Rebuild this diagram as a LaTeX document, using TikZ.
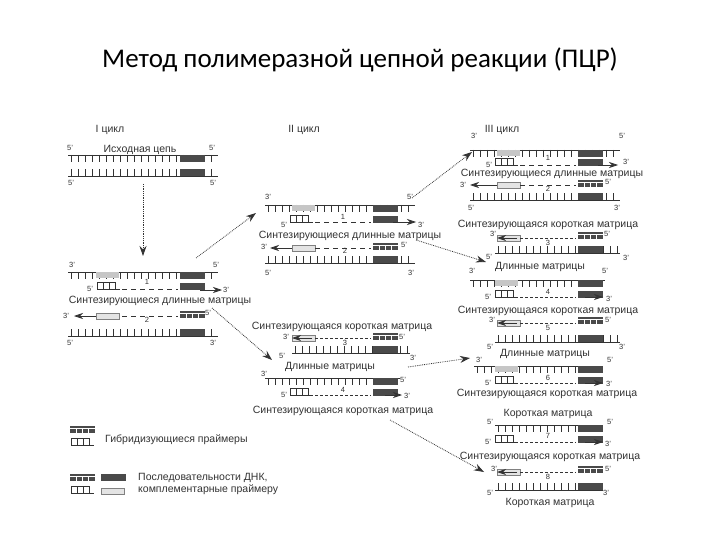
\documentclass[tikz,border=0pt]{standalone}
\usepackage{fontspec}
\setmainfont{Liberation Sans}
\newfontfamily\titlefont{Carlito}
\usetikzlibrary{arrows.meta}
\definecolor{ink}{HTML}{333333}
\definecolor{dk}{HTML}{4A4A4A}
\definecolor{lt}{HTML}{E4E4E4}
\tikzset{
 strand/.style={draw=ink,line width=0.8pt},
 lab/.style={font=\fontsize{10.5}{12}\selectfont,text=ink,inner sep=0pt},
 sm/.style={font=\fontsize{7.5}{8}\selectfont,text=ink,inner sep=0pt},
 syn/.style={draw=ink,dash pattern=on 5pt off 4pt,line width=0.7pt},
 syd/.style={draw=ink,densely dashed,line width=0.5pt},
 tip/.style={-{Stealth[length=9pt,width=6pt]},draw=ink,line width=0.7pt},
 link/.style={draw=ink,densely dotted,line width=0.8pt,-{Stealth[length=10pt,width=7pt]}},
}
\newcommand\TS[3]{\draw[strand] (#1,#3) -- (#2,#3);
 \pgfmathtruncatemacro\nn{(#2-#1-4)/7}
 \foreach \i in {0,...,\nn} \draw[strand] ({#1+3+\i*7},#3) -- ++(0,7);}
\newcommand\BS[3]{\draw[strand] (#1,#3) -- (#2,#3);
 \pgfmathtruncatemacro\nn{(#2-#1-4)/7}
 \foreach \i in {0,...,\nn} \draw[strand] ({#1+3+\i*7},#3) -- ++(0,-7);}
\newcommand\DB[2]{\fill[dk] (#1,#2) rectangle ++(25,7);}
\newcommand\DT[2]{\fill[dk] (#1,#2) rectangle ++(25,7);
 \foreach \k in {6,12,18} \draw[white,line width=0.8pt] ({#1+\k},{#2+2}) -- ++(0,5);
 \draw[white,line width=0.8pt] (#1,{#2+2}) -- ++(25,0);}
\newcommand\LB[2]{\filldraw[fill=lt,draw=gray] (#1,#2) rectangle ++(23,6);}
\newcommand\PR[2]{\draw[strand] (#1,{#2+7}) -- ++(23,0);
 \foreach \k in {0,6,12,18} \draw[strand] ({#1+\k},{#2+7}) -- ++(0,-7);
 \draw[strand] (#1,#2) -- ++(18,0);}
\newcommand\HA[2]{\fill[gray!45] (#1,#2) rectangle ++(23,6);}
\begin{document}
\begin{tikzpicture}[x=1pt,y=-1pt]
\useasboundingbox (0,0) rectangle (720,540);
\fill[white] (0,0) rectangle (720,540);
\node[font=\titlefont\fontsize{27}{30}\selectfont,text=black] (title) at (360,60) {Метод полимеразной цепной реакции (ПЦР)};
% ===== I cycle
\node[lab] (c1) at (110,130) {I цикл};
\node[sm] at (70,148) {5'}; \node[sm] at (212,148) {5'};
\node[lab] (ish) at (140,150) {Исходная цепь};
\TS{68}{218}{155} \DB{180}{155}
\BS{68}{218}{176} \DB{180}{169}
\node[sm] at (71,183) {5'}; \node[sm] at (213,183) {5'};
\coordinate (d1) at (143,184); \coordinate (d2) at (143,256);
\draw[link] (d1) -- (d2);
\node[sm] at (72,265) {3'}; \node[sm] at (216,265) {5'};
\TS{68}{218}{272} \HA{96}{272} \DB{180}{272}
\node[sm] at (90,289) {5'}; \PR{97}{282} \draw[syn] (122,289) -- (178,289);
\node[sm] at (147,282) {1}; \DB{180}{283}
\coordinate (a1s) at (200,290); \coordinate (a1e) at (222,290); \draw[tip] (a1s) -- (a1e);
\node[sm] at (226,290) {3'};
\node[lab] (L1) at (160,301) {Синтезирующиеся длинные матрицы};
\node[sm] at (66,316) {3'};
\coordinate (a2s) at (96,316); \coordinate (a2e) at (74,316); \draw[tip] (a2s) -- (a2e);
\LB{96}{313} \draw[syn] (122,316) -- (178,316); \node[sm] at (147,320) {2};
\DT{180}{311} \node[sm] at (208,313) {5'};
\BS{68}{218}{336} \DB{180}{329}
\node[sm] at (70,343) {5'}; \node[sm] at (213,343) {3'};
% ===== II cycle
\node[lab] (c2) at (304,130) {II цикл};
\node[sm] at (268,197) {3'}; \node[sm] at (410,197) {5'};
\TS{265}{415}{205} \HA{292}{205} \DB{373}{205}
\node[sm] at (284,225) {5'}; \PR{290}{215} \draw[syn] (315,222) -- (371,222);
\node[sm] at (343,217) {1}; \DB{373}{216}
\draw[tip] (393,222) -- (416,222); \node[sm] at (421,225) {3'};
\node[lab] (L2) at (350,236) {Синтезирующиеся длинные матрицы};
\node[sm] at (264,247) {3'}; \draw[tip] (292,248) -- (270,248);
\LB{292}{245} \draw[syn] (315,248) -- (371,248); \node[sm] at (345,251) {2};
\DT{373}{243} \node[sm] at (404,245) {5'};
\BS{265}{415}{263} \DB{373}{256}
\node[sm] at (268,273) {5'}; \node[sm] at (411,273) {3'};
\node[lab] (L3) at (342,327) {Синтезирующаяся короткая матрица};
\node[sm] at (286,337) {3'}; \LB{292}{335} \draw[tip] (312,338) -- (292,338);
\draw[syd] (315,338) -- (371,338); \node[sm] at (345,343) {3};
\DT{373}{333} \node[sm] at (402,337) {5'};
\BS{292}{410}{353} \DB{373}{346}
\node[sm] at (282,356) {5'}; \node[sm] at (413,358) {3'};
\node[lab] (L4) at (330,367) {Длинные матрицы};
\node[sm] at (264,374) {3'}; \node[sm] at (403,380) {5'};
\TS{265}{400}{378} \DB{373}{378}
\node[sm] at (284,395) {5'}; \PR{290}{388} \draw[syd] (315,395) -- (371,395);
\node[sm] at (343,390) {4}; \DB{373}{389} \draw[tip] (385,395) -- (402,395);
\node[sm] at (407,396) {3'};
\node[lab] (L5) at (343,411) {Синтезирующаяся короткая матрица};
% ===== III cycle
\node[lab] (c3) at (502,130) {III цикл};
\node[sm] at (474,136) {3'}; \node[sm] at (622,136) {5'};
\TS{470}{620}{150} \HA{497}{150} \DB{578}{150}
\node[sm] at (489,165) {5'}; \PR{495}{158} \draw[syn] (520,165) -- (576,165);
\node[sm] at (548,158) {1}; \DB{578}{159} \draw[tip] (598,165) -- (618,165);
\node[sm] at (626,162) {3'};
\node[lab] (L6) at (552,174) {Синтезирующиеся длинные матрицы};
\node[sm] at (463,185) {3'}; \draw[tip] (497,185) -- (470,185);
\LB{497}{182} \draw[syn] (520,185) -- (576,185); \node[sm] at (548,189) {2};
\DT{578}{180} \node[sm] at (608,182) {5'};
\BS{470}{620}{200} \DB{578}{193}
\node[sm] at (471,208) {5'}; \node[sm] at (617,208) {3'};
\node[lab] (L7) at (548,225) {Синтезирующаяся короткая матрица};
\node[sm] at (493,234) {3'}; \LB{497}{235} \draw[tip] (517,238) -- (497,238);
\draw[syd] (520,238) -- (576,238); \node[sm] at (548,243) {3};
\DT{578}{232} \node[sm] at (607,234) {5'};
\BS{495}{620}{253} \DB{578}{246}
\node[sm] at (489,257) {5'}; \node[sm] at (626,258) {3'};
\node[lab] (L8) at (540,267) {Длинные матрицы};
\node[sm] at (472,271) {3'}; \node[sm] at (605,271) {5'};
\TS{470}{605}{280} \HA{495}{280} \DB{578}{280}
\node[sm] at (488,297) {5'}; \PR{495}{290} \draw[syd] (520,297) -- (576,297);
\node[sm] at (548,292) {4}; \DB{578}{291} \draw[tip] (585,297) -- (603,297);
\node[sm] at (609,299) {3'};
\node[lab] (L9) at (548,311) {Синтезирующаяся короткая матрица};
\node[sm] at (492,320) {3'}; \LB{497}{320} \draw[tip] (517,323) -- (497,323);
\draw[syd] (520,323) -- (576,323); \node[sm] at (548,328) {5};
\DT{578}{317} \node[sm] at (608,320) {5'};
\BS{495}{620}{342} \DB{578}{335}
\node[sm] at (490,347) {5'}; \node[sm] at (622,347) {3'};
\node[lab] (L10) at (545,354) {Длинные матрицы};
\node[sm] at (479,360) {3'}; \node[sm] at (610,360) {5'};
\TS{474}{603}{366} \HA{495}{366} \DB{578}{366}
\node[sm] at (488,383) {5'}; \PR{495}{376} \draw[syd] (520,383) -- (576,383);
\node[sm] at (548,378) {6}; \DB{578}{377} \draw[tip] (585,383) -- (603,383);
\node[sm] at (609,384) {3'};
\node[lab] (L11) at (547,394) {Синтезирующаяся короткая матрица};
\node[lab] (L12) at (548,414) {Короткая матрица};
\node[sm] at (490,422) {5'}; \node[sm] at (610,422) {5'};
\TS{495}{603}{425} \DB{578}{425}
\node[sm] at (488,442) {5'}; \PR{495}{435} \draw[syd] (520,442) -- (576,442);
\node[sm] at (548,436) {7}; \DB{578}{436} \draw[tip] (585,442) -- (603,442);
\node[sm] at (608,444) {3'};
\node[lab] (L13) at (550,457) {Синтезирующаяся короткая матрица};
\node[sm] at (494,469) {3'}; \LB{497}{469} \draw[tip] (517,472) -- (497,472);
\draw[syd] (520,472) -- (576,472); \node[sm] at (548,477) {8};
\DT{578}{466} \node[sm] at (608,469) {5'};
\BS{495}{603}{490} \DB{578}{483}
\node[sm] at (490,493) {5'}; \node[sm] at (606,493) {3'};
\node[lab] (L14) at (550,503) {Короткая матрица};
% ===== links
\coordinate (k1) at (196,258); \coordinate (k2) at (256,213); \draw[link] (k1) -- (k2);
\coordinate (k3) at (212,308); \coordinate (k4) at (272,360); \draw[link] (k3) -- (k4);
\coordinate (k5) at (412,198); \coordinate (k6) at (472,152); \draw[link] (k5) -- (k6);
\coordinate (k7) at (416,240); \coordinate (k8) at (486,262); \draw[link] (k7) -- (k8);
\coordinate (k9) at (408,367); \coordinate (k10) at (470,358); \draw[link] (k9) -- (k10);
\coordinate (k11) at (390,420); \coordinate (k12) at (484,472); \draw[link] (k11) -- (k12);
% ===== legend
\DT{70}{426} \PR{71}{438}
\node[lab,anchor=west] (g1) at (105,440) {Гибридизующиеся праймеры};
\DT{70}{474} \DB{101}{474} \PR{71}{486} \LB{101}{488}
\node[lab,anchor=west,align=left] (g2) at (138,484) {Последовательности ДНК,\\комплементарные праймеру};
\end{tikzpicture}
\end{document}
